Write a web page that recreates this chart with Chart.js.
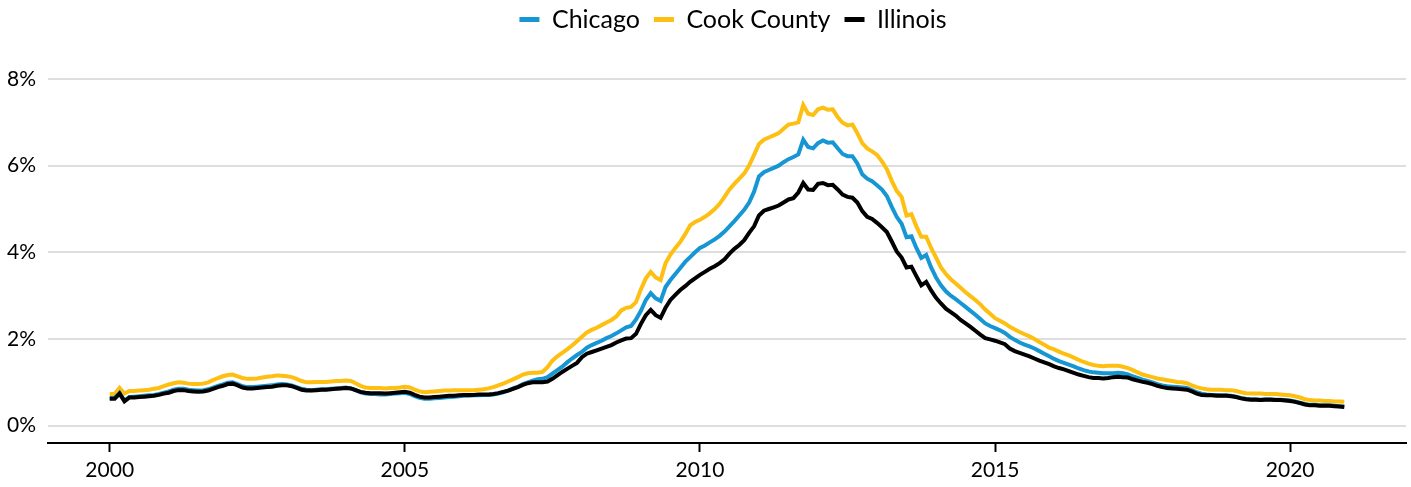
<!DOCTYPE html>
<html>
<head>
<meta charset="utf-8">
<script src="https://cdn.jsdelivr.net/npm/chart.js@4.4.1/dist/chart.umd.min.js"></script>
<style>
  html, body { margin: 0; padding: 0; background: #fff; }
  #wrap { width: 1411px; height: 487px; position: relative; }
</style>
</head>
<body>
<div id="wrap"><canvas id="c"></canvas></div>
<script>
// Monthly series, Jan 2000 – Dec 2020 (percent)
const startYear = 2000;
const seriesNames = ["Chicago", "Cook County", "Illinois"];
const seriesColors = ["#1696d2", "#fdbf11", "#000000"];

const chicago = [
  0.64,0.64,0.75,0.58,0.66,0.67,0.68,0.69,0.70,0.71,0.73,0.76,
  0.79,0.83,0.85,0.85,0.83,0.82,0.81,0.82,0.84,0.88,0.92,0.95,
  0.99,1.00,0.96,0.91,0.89,0.89,0.90,0.91,0.92,0.93,0.95,0.96,
  0.95,0.93,0.89,0.85,0.83,0.82,0.83,0.84,0.84,0.85,0.86,0.87,
  0.88,0.86,0.82,0.77,0.74,0.73,0.73,0.72,0.72,0.73,0.74,0.75,
  0.76,0.73,0.68,0.64,0.62,0.62,0.63,0.64,0.65,0.66,0.67,0.68,
  0.69,0.69,0.70,0.70,0.71,0.71,0.72,0.74,0.77,0.81,0.86,0.90,
  0.96,1.00,1.04,1.07,1.08,1.12,1.20,1.28,1.36,1.46,1.55,1.63,
  1.70,1.80,1.86,1.91,1.96,2.02,2.07,2.13,2.20,2.27,2.30,2.45,
  2.65,2.90,3.06,2.94,2.88,3.20,3.36,3.50,3.64,3.78,3.89,4.00,
  4.10,4.16,4.23,4.30,4.38,4.48,4.60,4.72,4.85,4.98,5.15,5.40,
  5.75,5.85,5.90,5.95,6.00,6.08,6.15,6.20,6.26,6.60,6.43,6.40,
  6.52,6.58,6.53,6.54,6.40,6.27,6.22,6.22,6.05,5.80,5.70,5.64,
  5.55,5.45,5.30,5.05,4.82,4.66,4.35,4.37,4.10,3.87,3.94,3.65,
  3.42,3.24,3.10,3.00,2.92,2.83,2.74,2.65,2.56,2.46,2.36,2.30,
  2.25,2.20,2.14,2.05,1.98,1.92,1.87,1.83,1.78,1.72,1.66,1.60,
  1.54,1.49,1.45,1.41,1.37,1.32,1.28,1.25,1.23,1.22,1.21,1.21,
  1.21,1.22,1.21,1.18,1.14,1.10,1.06,1.03,1.00,0.96,0.93,0.91,
  0.90,0.89,0.88,0.87,0.82,0.77,0.74,0.72,0.71,0.71,0.70,0.70,
  0.69,0.67,0.64,0.62,0.61,0.61,0.60,0.61,0.61,0.60,0.60,0.59,
  0.58,0.56,0.53,0.50,0.48,0.48,0.47,0.47,0.47,0.46,0.45,0.44
];

const cookCounty = [
  0.73,0.73,0.87,0.74,0.80,0.80,0.81,0.82,0.83,0.85,0.87,0.91,
  0.95,0.98,1.00,0.99,0.97,0.96,0.96,0.97,1.00,1.05,1.10,1.14,
  1.17,1.18,1.14,1.10,1.08,1.08,1.09,1.11,1.13,1.14,1.16,1.15,
  1.14,1.12,1.08,1.03,1.00,1.00,1.01,1.01,1.01,1.02,1.03,1.03,
  1.04,1.03,0.98,0.92,0.88,0.87,0.87,0.87,0.86,0.87,0.87,0.88,
  0.90,0.88,0.83,0.79,0.77,0.78,0.79,0.80,0.81,0.81,0.82,0.82,
  0.82,0.82,0.82,0.83,0.84,0.86,0.89,0.93,0.97,1.02,1.07,1.12,
  1.18,1.21,1.22,1.22,1.24,1.35,1.50,1.60,1.68,1.76,1.85,1.95,
  2.05,2.15,2.21,2.26,2.32,2.38,2.44,2.52,2.66,2.72,2.74,2.85,
  3.15,3.40,3.55,3.42,3.36,3.75,3.95,4.10,4.24,4.42,4.62,4.70,
  4.75,4.82,4.90,5.00,5.12,5.28,5.45,5.58,5.70,5.82,6.00,6.25,
  6.50,6.60,6.65,6.70,6.75,6.85,6.95,6.97,7.00,7.40,7.20,7.17,
  7.30,7.34,7.29,7.30,7.12,6.99,6.93,6.95,6.75,6.52,6.40,6.33,
  6.25,6.10,5.92,5.65,5.42,5.28,4.85,4.88,4.60,4.36,4.36,4.10,
  3.88,3.65,3.50,3.38,3.28,3.18,3.08,2.99,2.90,2.80,2.68,2.58,
  2.48,2.42,2.36,2.28,2.22,2.16,2.11,2.06,2.00,1.93,1.87,1.80,
  1.76,1.71,1.66,1.62,1.57,1.52,1.47,1.43,1.40,1.38,1.37,1.38,
  1.38,1.38,1.36,1.33,1.28,1.23,1.18,1.15,1.12,1.09,1.07,1.05,
  1.03,1.01,1.00,0.98,0.93,0.89,0.86,0.84,0.83,0.83,0.83,0.82,
  0.82,0.80,0.77,0.75,0.74,0.74,0.74,0.73,0.73,0.73,0.72,0.71,
  0.70,0.68,0.65,0.61,0.59,0.58,0.58,0.57,0.57,0.56,0.56,0.55
];

const illinois = [
  0.62,0.62,0.74,0.56,0.65,0.65,0.66,0.67,0.68,0.69,0.71,0.74,
  0.76,0.80,0.82,0.82,0.80,0.79,0.78,0.79,0.81,0.85,0.89,0.92,
  0.96,0.97,0.93,0.88,0.86,0.86,0.87,0.88,0.89,0.90,0.92,0.93,
  0.93,0.91,0.87,0.83,0.81,0.81,0.82,0.83,0.83,0.84,0.85,0.86,
  0.87,0.86,0.82,0.78,0.76,0.75,0.75,0.75,0.74,0.75,0.76,0.77,
  0.78,0.76,0.71,0.67,0.65,0.65,0.66,0.67,0.68,0.69,0.69,0.70,
  0.71,0.71,0.71,0.72,0.72,0.72,0.73,0.75,0.78,0.81,0.85,0.89,
  0.94,0.98,1.00,1.00,1.00,1.02,1.08,1.16,1.24,1.31,1.38,1.45,
  1.58,1.66,1.70,1.74,1.78,1.82,1.86,1.92,1.97,2.01,2.02,2.12,
  2.35,2.55,2.67,2.55,2.49,2.72,2.90,3.02,3.13,3.22,3.32,3.40,
  3.48,3.55,3.62,3.68,3.75,3.84,3.97,4.08,4.17,4.28,4.45,4.60,
  4.85,4.96,5.00,5.04,5.08,5.15,5.22,5.25,5.38,5.60,5.45,5.44,
  5.58,5.60,5.55,5.56,5.45,5.33,5.28,5.26,5.15,4.95,4.82,4.77,
  4.68,4.58,4.47,4.25,4.02,3.88,3.65,3.67,3.45,3.24,3.32,3.12,
  2.95,2.82,2.70,2.62,2.54,2.44,2.36,2.28,2.19,2.10,2.02,1.99,
  1.96,1.92,1.88,1.78,1.72,1.68,1.64,1.60,1.55,1.50,1.46,1.42,
  1.37,1.33,1.30,1.26,1.22,1.18,1.15,1.12,1.10,1.10,1.09,1.10,
  1.12,1.13,1.12,1.11,1.07,1.04,1.01,0.99,0.96,0.92,0.89,0.87,
  0.86,0.85,0.84,0.83,0.79,0.74,0.71,0.70,0.70,0.69,0.69,0.69,
  0.68,0.66,0.63,0.61,0.60,0.60,0.59,0.60,0.60,0.59,0.59,0.58,
  0.57,0.55,0.52,0.49,0.47,0.47,0.46,0.46,0.46,0.45,0.44,0.43
];

const xTicks = [2000, 2005, 2010, 2015, 2020];
const yTicks = [0, 2, 4, 6, 8];

// decimal-year x value for each month
const months = chicago.map((_, i) => startYear + i / 12);
const toPoints = arr => arr.map((v, i) => ({ x: months[i], y: v }));

const xPad = (months[months.length - 1] - months[0]) * 0.05;

const FONT = "Lato, 'Open Sans', sans-serif";

const seriesData = [chicago, cookCounty, illinois];
const drawOrder = [1, 2, 0];

const datasets = seriesData.map((arr, k) => ({
  label: seriesNames[k],
  data: toPoints(arr),
  borderColor: seriesColors[k],
  backgroundColor: seriesColors[k],
  borderWidth: 4,
  pointRadius: 0,
  pointHoverRadius: 0,
  tension: 0,
  order: drawOrder[k],
  borderJoinStyle: 'miter'
}));

// Fixed legend block height, and legend centred over the plot area
const legendLayoutPlugin = {
  id: 'legendLayout',
  beforeInit(chart) {
    const origFit = chart.legend.fit;
    chart.legend.fit = function () {
      origFit.bind(chart.legend)();
      this.height = 86;
    };
  },
  afterLayout(chart) {
    const lg = chart.legend;
    const shift = (chart.chartArea.left + chart.chartArea.right) / 2 - (lg.left + lg.right) / 2 + 6;
    lg.left += shift;
    lg.right += shift;
    lg.adjustHitBoxes && lg.adjustHitBoxes();
  }
};

new Chart(document.getElementById('c'), {
  type: 'line',
  data: { datasets },
  plugins: [legendLayoutPlugin],
  options: {
    responsive: true,
    maintainAspectRatio: false,
    animation: false,
    events: [],
    layout: { padding: { left: 4, right: 5, top: -7, bottom: 0 } },
    plugins: {
      tooltip: { enabled: false },
      legend: {
        position: 'top',
        align: 'center',
        labels: {
          boxWidth: 20,
          boxHeight: 5,
          padding: 14,
          color: '#000',
          font: { family: FONT, size: 25 },
          sort: (a, b) => a.datasetIndex - b.datasetIndex,
          generateLabels: (chart) => {
            const items = Chart.defaults.plugins.legend.labels.generateLabels(chart);
            items.forEach(it => { it.lineWidth = 0; it.strokeStyle = 'transparent'; });
            return items;
          }
        }
      }
    },
    scales: {
      x: {
        type: 'linear',
        min: months[0] - xPad,
        max: months[months.length - 1] + xPad,
        afterBuildTicks: (axis) => { axis.ticks = xTicks.map(v => ({ value: v })); },
        afterFit: (axis) => { axis.height = 44; },
        ticks: {
          color: '#000',
          font: { family: FONT, size: 21 },
          padding: 6,
          maxRotation: 0,
          callback: (v) => String(v)
        },
        grid: {
          drawOnChartArea: false,
          drawTicks: true,
          tickLength: 9,
          tickWidth: 2,
          tickColor: '#000'
        },
        border: { display: true, color: '#000', width: 2 }
      },
      y: {
        type: 'linear',
        min: -0.4,
        max: 8,
        afterBuildTicks: (axis) => { axis.ticks = yTicks.map(v => ({ value: v })); },
        afterFit: (axis) => { axis.width = 44; },
        ticks: {
          color: '#000',
          font: { family: FONT, size: 21 },
          padding: 12,
          callback: (v) => v + '%'
        },
        grid: {
          color: '#dedede',
          lineWidth: 2,
          drawTicks: false
        },
        border: { display: false }
      }
    }
  }
});
</script>
</body>
</html>
